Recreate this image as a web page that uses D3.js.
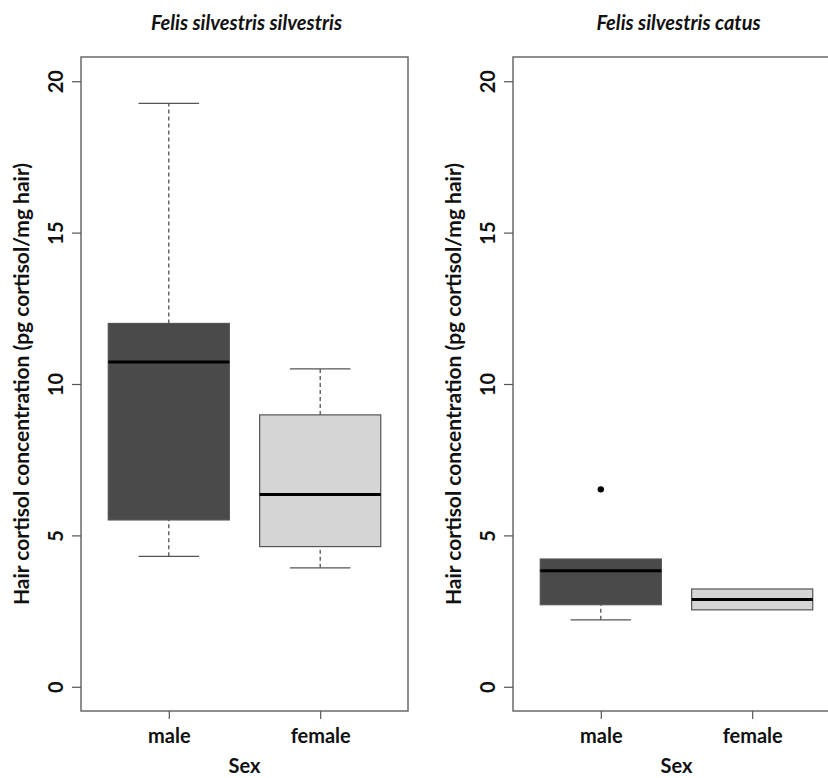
<!DOCTYPE html>
<html>
<head>
<meta charset="utf-8">
<script src="https://cdn.jsdelivr.net/npm/d3@7"></script>
<style>
  body { margin: 0; background: #fff; }
  svg { display: block; }
  text { font-family: Lato, "Open Sans", sans-serif; font-weight: bold; fill: #111; }
</style>
</head>
<body>
<script>
(function(){
	// data
	const categories = ["male", "female"];
	const panelTitles = ["Felis silvestris silvestris", "Felis silvestris catus"];
	const yTicks = [0, 5, 10, 15, 20];
	// [lower whisker, Q1, median, Q3, upper whisker]
	const wildStats = [[4.31, 5.51, 10.73, 12.0, 19.27], [3.93, 4.63, 6.35, 8.98, 10.5]];
	const domesticStats = [[2.21, 2.71, 3.83, 4.22, 4.22], [2.54, 2.54, 2.88, 3.23, 3.23]];
	const wildOutliers = [[], []];
	const domesticOutliers = [[6.52], []];
	const fills = ["#4a4a4a", "#d5d5d5"];

	const Config = {
		svg: {Width: 828, Height: 778},
		panels: [{left: 81}, {left: 513}],
		top: 57, bottom: 711, plotWidth: 327
	};

	var svg = d3.select('body')
		.append('svg')
		.attr('width', Config.svg.Width)
		.attr('height', Config.svg.Height);

	var scaleY = d3.scaleLinear().domain([-0.8, 20.8]).range([Config.bottom, Config.top]);

	function drawPanel(p, title, stats, outliers){
		var left = Config.panels[p].left;
		var right = left + Config.plotWidth;
		var scaleX = d3.scaleLinear().domain([0.42, 2.58]).range([left, right]);
		var boxW = scaleX(1.8) - scaleX(1);
		var g = svg.append('g');

		// title
		g.append('text')
			.attr('x', (left + right) / 2 + 2).attr('y', 30)
			.attr('text-anchor', 'middle')
			.style('font-style', 'italic')
			.style('font-size', '20px')
			.text(title);

		// boxes
		stats.forEach(function(s, i){
			var cx = scaleX(i + 1);
			var bg = g.append('g');
			// whiskers
			[[s[0], s[1]], [s[3], s[4]]].forEach(function(w){
				if (w[0] === w[1]) return;
				bg.append('line')
					.attr('x1', cx).attr('x2', cx)
					.attr('y1', scaleY(w[0])).attr('y2', scaleY(w[1]))
					.attr('stroke', '#444').attr('stroke-width', 1.2)
					.attr('stroke-dasharray', '4,3');
			});
			[s[0], s[4]].forEach(function(v, k){
				if (v === s[k === 0 ? 1 : 3]) return;
				bg.append('line')
					.attr('x1', cx - boxW / 4).attr('x2', cx + boxW / 4)
					.attr('y1', scaleY(v)).attr('y2', scaleY(v))
					.attr('stroke', '#555').attr('stroke-width', 1.3);
			});
			bg.append('rect')
				.attr('x', cx - boxW / 2).attr('width', boxW)
				.attr('y', scaleY(s[3])).attr('height', scaleY(s[1]) - scaleY(s[3]))
				.attr('fill', fills[i]).attr('stroke', '#555').attr('stroke-width', 1.2);
			bg.append('line')
				.attr('x1', cx - boxW / 2).attr('x2', cx + boxW / 2)
				.attr('y1', scaleY(s[2])).attr('y2', scaleY(s[2]))
				.attr('stroke', '#000').attr('stroke-width', 3);
			outliers[i].forEach(function(o){
				bg.append('circle')
					.attr('cx', cx).attr('cy', scaleY(o)).attr('r', 3.2)
					.attr('fill', '#000');
			});
		});

		// frame
		g.append('rect')
			.attr('x', left).attr('y', Config.top)
			.attr('width', Config.plotWidth).attr('height', Config.bottom - Config.top)
			.attr('fill', 'none').attr('stroke', '#6a6a6a').attr('stroke-width', 1.5);

		// y axis
		var ay = g.append('g')
			.attr('transform', 'translate(' + left + ',0)')
			.call(d3.axisLeft(scaleY).tickValues(yTicks).tickSize(9).tickPadding(0).tickFormat(d3.format('d')));
		ay.select('.domain').remove();
		ay.selectAll('.tick line').attr('stroke', '#555').attr('stroke-width', 1.2);
		ay.selectAll('.tick text')
			.attr('x', 0).attr('dy', null)
			.attr('transform', 'translate(-26,0) rotate(-90)')
			.attr('text-anchor', 'middle')
			.attr('dominant-baseline', 'central')
			.style('font-family', 'Lato, sans-serif')
			.style('font-weight', 'bold')
			.style('font-size', '20px')
			.attr('fill', '#111');

		// x axis
		var ax = g.append('g')
			.attr('transform', 'translate(0,' + Config.bottom + ')')
			.call(d3.axisBottom(scaleX).tickValues([1, 2]).tickSize(8).tickPadding(10)
				.tickFormat(function(d){ return categories[d - 1]; }));
		ax.select('.domain').remove();
		ax.selectAll('.tick line').attr('stroke', '#555').attr('stroke-width', 1.2);
		ax.selectAll('.tick text')
			.style('font-family', 'Lato, sans-serif')
			.style('font-weight', 'bold')
			.style('font-size', '20px')
			.attr('fill', '#111');

		// axis titles
		g.append('text')
			.attr('x', (left + right) / 2).attr('y', 773)
			.attr('text-anchor', 'middle')
			.style('font-size', '20px')
			.text('Sex');
		g.append('text')
			.attr('transform', 'translate(' + (left - 61) + ',' + ((Config.top + Config.bottom) / 2) + ') rotate(-90)')
			.attr('text-anchor', 'middle')
			.attr('dominant-baseline', 'central')
			.style('font-size', '21px')
			.text('Hair cortisol concentration (pg cortisol/mg hair)');
	}

	drawPanel(0, panelTitles[0], wildStats, wildOutliers);
	drawPanel(1, panelTitles[1], domesticStats, domesticOutliers);
})();
</script>
</body>
</html>
